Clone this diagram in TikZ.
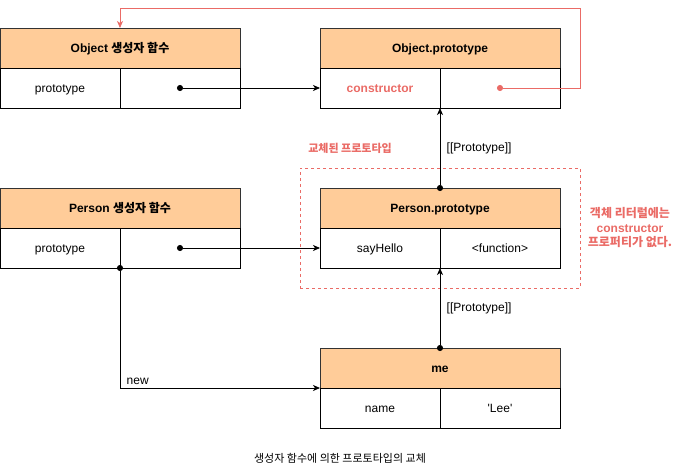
\documentclass[tikz,border=0pt]{standalone}
\usepackage{fontspec}
\setmainfont{Liberation Sans}
\newfontfamily\kr{Noto Sans CJK KR}
\usetikzlibrary{positioning,arrows.meta,fit}
\definecolor{hdrfill}{HTML}{FFCC99}
\definecolor{notered}{HTML}{EA6B66}
\tikzset{
    hdr/.style={draw=black!80, fill=hdrfill, minimum width=240pt,
        minimum height=40pt, outer sep=0pt, text height=10pt, text depth=2pt,
        font=\fontsize{12}{14}\selectfont\bfseries},
    cell/.style={draw, minimum width=120pt, minimum height=40pt,
        outer sep=0pt, text height=10pt, text depth=2pt,
        font=\fontsize{12}{14}\selectfont},
    lbl/.style={font=\fontsize{12}{14}\selectfont},
    dotlink/.style={{Circle[length=6pt]}-{Stealth[length=7pt,width=6pt,inset=2pt]},
        shorten <=-3pt}
}
\begin{document}
\begin{tikzpicture}[x=1pt,y=-1pt,line width=0.8pt]
    \useasboundingbox (0,0) rectangle (681,469);
    % Object constructor
    \node [hdr] (oFH) at (120,48) {Object {\kr 생성자 함수}};
    \node [cell, anchor=north west] (oFk) at (oFH.south west) {prototype};
    \node [cell, right=0pt of oFk] (oFv) {};
    % Object.prototype
    \node [hdr] (oPH) at (440,48) {Object.prototype};
    \node [cell, anchor=north west,
        text=notered,
        font=\fontsize{12}{14}\selectfont\bfseries] (oPk) at (oPH.south west) {constructor};
    \node [cell, right=0pt of oPk] (oPv) {};
    % Person constructor
    \node [hdr] (pFH) at (120,208) {Person {\kr 생성자 함수}};
    \node [cell, anchor=north west] (pFk) at (pFH.south west) {prototype};
    \node [cell, right=0pt of pFk] (pFv) {};
    % Person.prototype
    \node [hdr] (pPH) at (440,208) {Person.prototype};
    \node [cell, anchor=north west] (pPk) at (pPH.south west) {sayHello};
    \node [cell, right=0pt of pPk] (pPv) {<function>};
    % me
    \node [hdr] (meH) at (440,368) {me};
    \node [cell, anchor=north west] (meK) at (meH.south west) {name};
    \node [cell, right=0pt of meK] (meV) {\textquotesingle Lee\textquotesingle};
    % replaced prototype frame
    \node [draw=notered,
        dash pattern=on 3pt off 3pt,
        line width=0.6pt,
        inner sep=20pt,
        fit=(pPH)(pPv)] (swap) {};
    \node [text=notered, font=\kr\fontsize{11}{13}\selectfont\bfseries] (swapL) at (350,148) {교체된 프로토타입};
    \node [text=notered, align=center,
        font=\fontsize{12}{14.5}\selectfont\bfseries] (note) at (630,228)
        {{\kr 객체 리터럴에는}\\constructor\\{\kr 프로퍼티가 없다.}};
    % links
    \draw [dotlink] (oFv.center) -- (oPk.west);
    \draw [dotlink] (pFv.center) -- (pPk.west);
    \draw [dotlink] (pPH.north) -- node [lbl, right, xshift=3pt] {[[Prototype]]} (oPv.south west);
    \draw [dotlink] (meH.north) -- node [lbl, right, xshift=3pt] {[[Prototype]]} (pPv.south west);
    \draw [dotlink] (pFk.south east) |- node [lbl, pos=0.5, above right, xshift=3pt] {new} (meH.south west);
    % constructor back link
    \coordinate (loopR) at (580,8);
    \draw [dotlink, color=notered] (oPv.center) -| (loopR) -| (oFH.north);
    % caption
    \node [font=\kr\fontsize{11}{13}\selectfont] (cap) at (340,458) {생성자 함수에 의한 프로토타입의 교체};
\end{tikzpicture}
\end{document}
